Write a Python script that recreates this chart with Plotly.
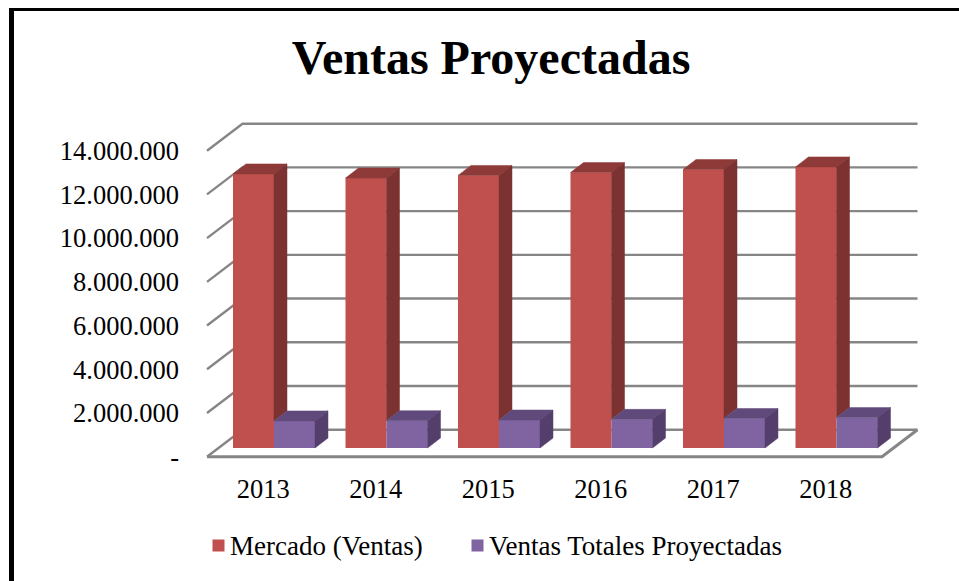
import plotly.graph_objects as go

# --- data ---
years = ["2013", "2014", "2015", "2016", "2017", "2018"]
mercado = [12540000, 12350000, 12470000, 12600000, 12740000, 12860000]
proyectadas = [1240000, 1250000, 1280000, 1310000, 1350000, 1390000]
tick_values = [0, 2000000, 4000000, 6000000, 8000000, 10000000, 12000000, 14000000]
tick_labels = ["-", "2.000.000", "4.000.000", "6.000.000", "8.000.000",
               "10.000.000", "12.000.000", "14.000.000"]
series_names = ["Mercado (Ventas)", "Ventas Totales Proyectadas"]

# --- layout geometry (pixels) ---
W, H = 959, 581
PL, PR, PT, PB = 204, 920, 120, 462      # plot box
X0_PX, BAND_PX = 207, 112.5              # front edge of the floor, category band
Y0_PX, PX_PER_VAL = 456.7, 306 / 14e6    # front-plane zero, vertical scale
FONT = "Liberation Serif"
TICK_SIZE = 26.5
LEGEND_SIZE = 27

px_x = lambda p: (p - X0_PX) / BAND_PX - 0.5
dx_u = lambda p: p / BAND_PX
dy_u = lambda p: p / PX_PER_VAL
paper_x = lambda p: (p - PL) / (PR - PL)
paper_y = lambda p: (PB - p) / (PB - PT)

WALL_DX, WALL_DY = dx_u(35.5), dy_u(27)        # depth of the chart box
BAR_DX, BAR_DY = dx_u(13), dy_u(10)            # depth of a bar
BAR_W = dx_u(41)
BAR_SHIFT = dx_u(10.75)                        # bar plane vs. front plane
BAR_BASE = dy_u(8.7)

GRID = "#868686"
RED, RED_TOP, RED_SIDE = "#C0504D", "#8E3A38", "#7B3231"
PUR, PUR_TOP, PUR_SIDE = "#8064A2", "#604A7B", "#543F6C"

n = len(years)
x_left, x_right = -0.5, n - 0.5
fig = go.Figure()


def poly(xs, ys, color):
    fig.add_trace(go.Scatter(x=xs + xs[:1], y=ys + ys[:1], mode="lines", fill="toself",
                             fillcolor=color, line=dict(color=color, width=0.5),
                             showlegend=False, hoverinfo="skip"))


# fronts
xs = [i + BAR_SHIFT for i in range(n)]
fig.add_trace(go.Bar(x=xs, y=mercado, base=BAR_BASE, width=BAR_W, offset=-BAR_W,
                     marker=dict(color=RED, line=dict(width=0)), name=series_names[0]))
fig.add_trace(go.Bar(x=xs, y=proyectadas, base=BAR_BASE, width=BAR_W, offset=0, legend="legend2",
                     marker=dict(color=PUR, line=dict(width=0)), name=series_names[1]))

# top and side faces, painted back to front
for x, m, p in zip(xs, mercado, proyectadas):
    mt, pt, pb = BAR_BASE + m, BAR_BASE + p, BAR_BASE
    poly([x - BAR_W, x, x + BAR_DX, x - BAR_W + BAR_DX], [mt, mt, mt + BAR_DY, mt + BAR_DY], RED_TOP)
    poly([x, x + BAR_DX, x + BAR_DX, x], [mt, mt + BAR_DY, pt + BAR_DY, pt], RED_SIDE)
    poly([x, x + BAR_W, x + BAR_W + BAR_DX, x + BAR_DX], [pt, pt, pt + BAR_DY, pt + BAR_DY], PUR_TOP)
    poly([x + BAR_W, x + BAR_W + BAR_DX, x + BAR_W + BAR_DX, x + BAR_W],
         [pt, pt + BAR_DY, pb + BAR_DY, pb], PUR_SIDE)

# walls and floor sit below the traces
shapes = []
for v in tick_values:
    shapes.append(dict(type="path", layer="below", xref="x", yref="y",
                       path=f"M{x_left},{v} L{x_left + WALL_DX},{v + WALL_DY} L{x_right + WALL_DX},{v + WALL_DY}",
                       line=dict(color=GRID, width=2.4)))
shapes.append(dict(type="path", layer="below", xref="x", yref="y",
                   path=f"M{x_left},0 L{x_right},0 L{x_right + WALL_DX},{WALL_DY}",
                   line=dict(color=GRID, width=3)))

# page frame
for a, b, c, d in [(9, 14, 8, H), (9, W, 8, 11)]:
    shapes.append(dict(type="rect", xref="paper", yref="paper", x0=paper_x(a), x1=paper_x(b),
                       y0=paper_y(c), y1=paper_y(d), fillcolor="black", line=dict(width=0)))


def legend_at(text_px):
    return dict(orientation="h", x=paper_x(text_px - 40), xanchor="left", y=paper_y(545), yanchor="middle",
                traceorder="normal", font=dict(family=FONT, size=LEGEND_SIZE),
                bgcolor="rgba(0,0,0,0)", itemclick=False)


fig.update_layout(
    width=W, height=H, autosize=False,
    margin=dict(l=PL, r=W - PR, t=PT, b=H - PB, pad=0),
    paper_bgcolor="white", plot_bgcolor="rgba(0,0,0,0)",
    font=dict(family=FONT, size=26, color="black"),
    title=dict(text="<b>Ventas Proyectadas</b>", font=dict(family=FONT, size=48, color="black"),
               x=491 / W, xref="container", xanchor="center",
               y=1 - 57 / H, yref="container", yanchor="middle"),
    barmode="overlay", shapes=shapes, showlegend=True,
    legend=legend_at(230), legend2=legend_at(489),
    xaxis=dict(range=[px_x(PL), px_x(PR)], tickmode="array", tickvals=list(range(n)), ticktext=years,
               showgrid=False, zeroline=False, showline=False, ticks="", ticklabelstandoff=8,
               tickfont=dict(family=FONT, size=TICK_SIZE)),
    yaxis=dict(range=[(Y0_PX - PB) / PX_PER_VAL, (Y0_PX - PT) / PX_PER_VAL], tickmode="array",
               tickvals=tick_values, ticktext=tick_labels, showgrid=False, zeroline=False,
               showline=False, ticks="", ticklabelstandoff=24, tickfont=dict(family=FONT, size=TICK_SIZE)),
)

# the reference keeps its swatches close to the legend text
post = ("document.body.style.margin='0';document.body.style.overflow='hidden';"
        "document.querySelectorAll('.legendsymbols').forEach(function(g){"
        "g.setAttribute('transform','translate(8.5,1)');});")
fig.write_html("out.html", config=dict(displayModeBar=False), post_script=post)
